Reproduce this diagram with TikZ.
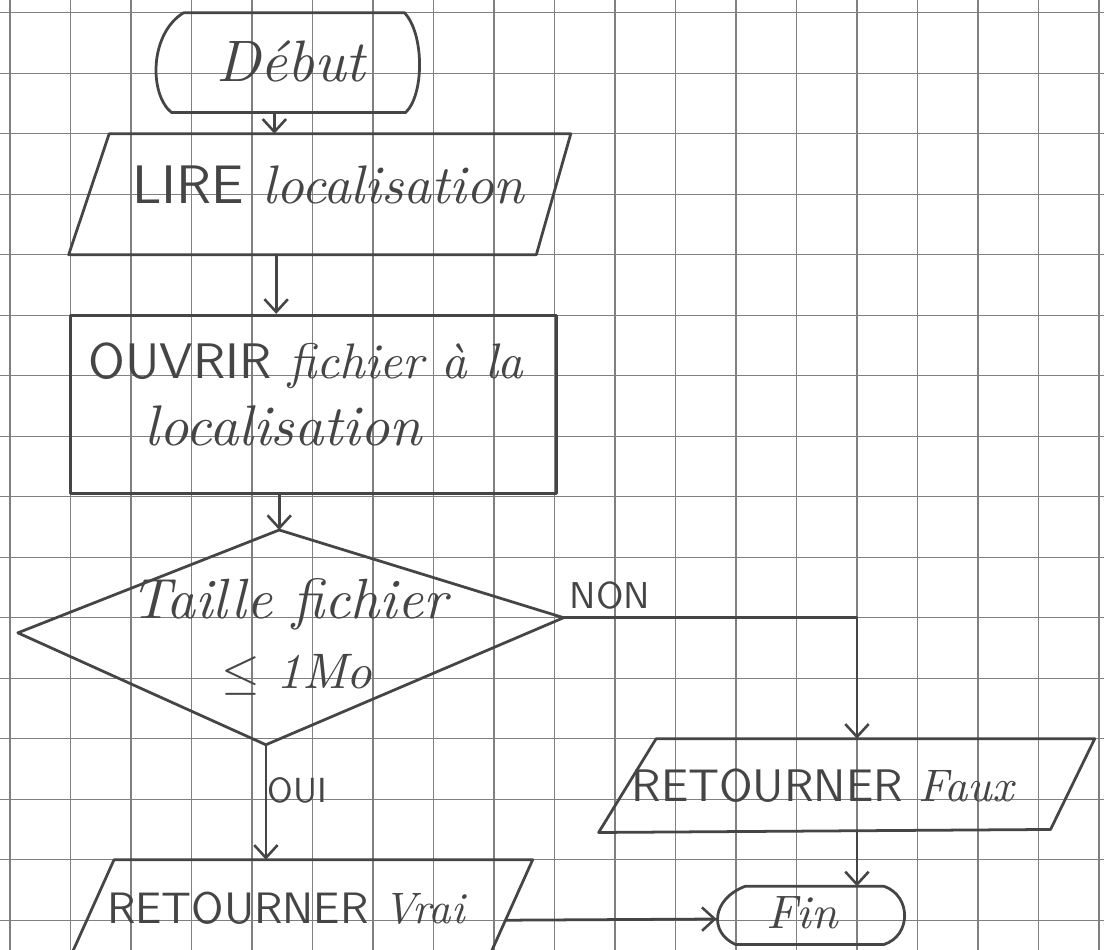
\documentclass[tikz,border=0pt]{standalone}
\usepackage{fontspec}
\usepackage{graphicx}
\usetikzlibrary{arrows.meta}
\definecolor{ink}{gray}{0.27}
\definecolor{gridc}{gray}{0.5}
\newcommand{\hw}[2]{\resizebox{#1cm}{!}{#2}}
\newcommand{\caps}[1]{\textsf{#1}}
\newcommand{\curs}[1]{\textit{#1}}
\begin{document}
\begin{tikzpicture}[
  gridline/.style={draw=gridc, line width=0.6pt},
  pen/.style={draw=ink, line width=1.3pt, line join=round, line cap=round},
  flow/.style={pen, -{Straight Barb[length=6pt,width=11pt,line width=1.2pt]}},
  hand/.style={text=ink, inner sep=0pt, anchor=center},
]
\useasboundingbox (-0.165,0.21) rectangle (18.083,-15.492);
\clip (-0.165,0.21) rectangle (18.083,-15.492);
\fill[white] (-0.165,0.21) rectangle (18.083,-15.492);
% squared paper
\foreach \k in {0,...,15} \draw[gridline] (-0.3,-\k) -- (18.3,-\k);
\foreach \k in {0,...,18} \draw[gridline] (\k,0.3) -- (\k,-15.7);

% Debut
\coordinate (d-tl) at (2.87,0);
\coordinate (d-tr) at (6.52,0);
\coordinate (d-br) at (6.54,-1.65);
\coordinate (d-bl) at (2.67,-1.65);
\draw[pen] (d-tl) -- (d-tr) .. controls (6.85,-0.35) and (6.85,-1.35) .. (d-br) -- (d-bl) .. controls (2.3,-1.35) and (2.3,-0.35) .. (d-tl);
\node[hand] (debut) at (4.66,-0.8) {\hw{2.5}{\curs{Début}}};
\coordinate (debut-out) at (4.37,-1.65);

% LIRE localisation
\coordinate (l-tl) at (1.64,-2);
\coordinate (l-tr) at (9.27,-2);
\coordinate (l-br) at (8.7,-4);
\coordinate (l-bl) at (0.97,-4);
\draw[pen] (l-tl) -- (l-tr) -- (l-br) -- (l-bl) -- cycle;
\node[hand] (lire) at (5.27,-2.85) {\hw{6.5}{\caps{LIRE} \curs{localisation}}};
\coordinate (lire-in) at (4.37,-2);
\coordinate (lire-out) at (4.4,-4);
\draw[flow] (debut-out) -- (lire-in);

% OUVRIR
\node[pen, minimum width=8.03cm, minimum height=2.95cm, inner sep=0pt] (ouvrir) at (5.015,-6.475) {};
\node[hand] (ouvrir1) at (4.9,-5.83) {\hw{7.2}{\caps{OUVRIR} \curs{fichier à la}}};
\node[hand] (ouvrir2) at (4.53,-6.83) {\hw{4.6}{\curs{localisation}}};
\draw[flow] (lire-out) -- (ouvrir.north -| lire-out);

% decision
\coordinate (t-top) at (4.45,-8.55);
\coordinate (t-right) at (9.15,-10);
\coordinate (t-bottom) at (4.23,-12.1);
\coordinate (t-left) at (0.13,-10.25);
\draw[pen] (t-top) -- (t-right) -- (t-bottom) -- (t-left) -- cycle;
\draw[flow] (ouvrir.south -| t-top) -- (t-top);
\node[hand] (taille) at (4.64,-9.78) {\hw{5.3}{\curs{Taille fichier}}};
\node[hand] (taille2) at (4.74,-10.95) {\hw{2.5}{$\leq$ \curs{1Mo}}};

% NON branch
\coordinate (non-corner) at (14,-10);
\node[hand] (non) at (9.92,-9.64) {\hw{1.33}{\caps{NON}}};
\coordinate (f-tl) at (10.68,-12);
\coordinate (f-tr) at (17.93,-12);
\coordinate (f-br) at (17.2,-13.5);
\coordinate (f-bl) at (9.73,-13.55);
\draw[pen] (f-tl) -- (f-tr) -- (f-br) -- (f-bl) -- cycle;
\coordinate (faux-in) at (14,-12);
\coordinate (faux-out) at (14,-13.52);
\draw[flow] (t-right) -- (non-corner) -- (faux-in);
\node[hand] (faux) at (13.45,-12.78) {\hw{6.35}{\caps{RETOURNER} \curs{Faux}}};

% Fin
\coordinate (e-tl) at (12.15,-14.44);
\coordinate (e-tr) at (14.45,-14.44);
\coordinate (e-br) at (14.45,-15.4);
\coordinate (e-bl) at (11.99,-15.4);
\draw[pen] (e-tl) -- (e-tr) .. controls (14.9,-14.6) and (14.9,-15.25) .. (e-br) -- (e-bl) .. controls (11.55,-15.2) and (11.6,-14.65) .. (e-tl);
\coordinate (fin-top) at (14,-14.44);
\coordinate (fin-left) at (11.68,-14.98);
\draw[flow] (faux-out) -- (fin-top);
\node[hand] (fin) at (13.1,-14.87) {\hw{1.2}{\curs{Fin}}};

% OUI branch
\coordinate (vrai-in) at (4.23,-14);
\draw[flow] (t-bottom) -- (vrai-in);
\node[hand] (oui) at (4.75,-12.85) {\hw{0.98}{\caps{OUI}}};
\coordinate (v-tl) at (1.72,-14);
\coordinate (v-tr) at (8.64,-14);
\coordinate (v-br) at (7.74,-16);
\coordinate (v-bl) at (0.82,-16);
\draw[pen] (v-tl) -- (v-tr) -- (v-br) -- (v-bl) -- cycle;
\node[hand] (vrai) at (4.58,-14.8) {\hw{5.95}{\caps{RETOURNER} \curs{Vrai}}};
\coordinate (vrai-out) at (8.19,-15);
\draw[flow] (vrai-out) -- (fin-left);
\end{tikzpicture}
\end{document}
